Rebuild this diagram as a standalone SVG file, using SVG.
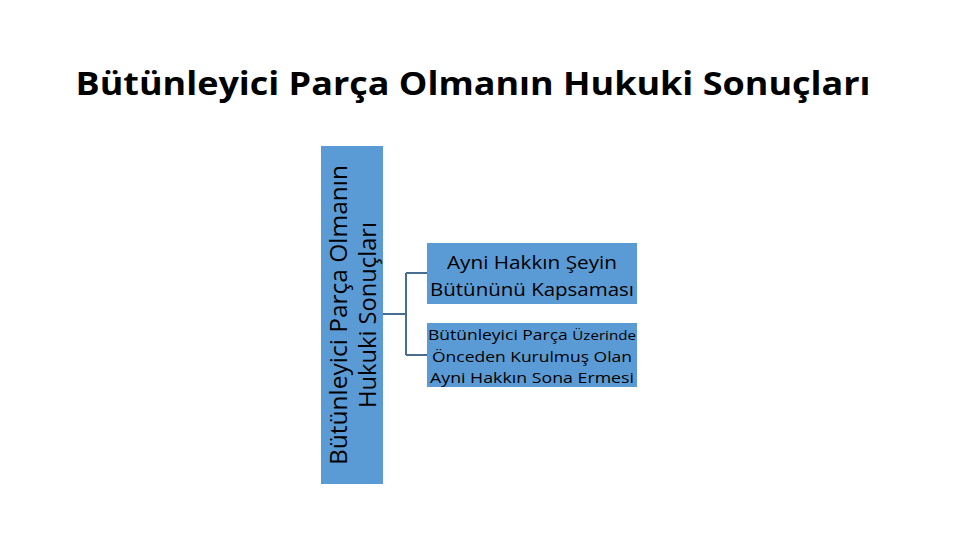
<svg xmlns="http://www.w3.org/2000/svg" width="960" height="540" viewBox="0 0 960 540">
<style>
.box{fill:#5b9bd5;}
.t{font-family:"Open Sans","Liberation Sans",sans-serif;fill:#000;text-anchor:middle;}
.conn{fill:none;stroke:#4a6d8f;stroke-width:2;}
</style>
<rect width="960" height="540" fill="#fff"/>
<text x="473" y="95" class="t" font-size="33" font-weight="bold" textLength="795" lengthAdjust="spacingAndGlyphs">Bütünleyici Parça Olmanın Hukuki Sonuçları</text>
<g id="connectors">
<path class="conn" d="M383,314 H406 M406,273 V355 M406,273 H427 M406,355 H427"/>
</g>
<g id="root">
<rect class="box" x="321" y="146" width="62" height="338"/>
<g transform="translate(352,315) rotate(-90)">
<text x="0" y="-5" class="t" font-size="23" textLength="300" lengthAdjust="spacingAndGlyphs">Bütünleyici Parça Olmanın</text>
<text x="0" y="24" class="t" font-size="23" textLength="186" lengthAdjust="spacingAndGlyphs">Hukuki Sonuçları</text>
</g>
</g>
<g id="n1">
<rect class="box" x="427" y="243" width="210" height="61"/>
<text x="532" y="269" class="t" font-size="19" textLength="170" lengthAdjust="spacingAndGlyphs">Ayni Hakkın Şeyin</text>
<text x="532" y="296" class="t" font-size="19" textLength="204" lengthAdjust="spacingAndGlyphs">Bütününü Kapsaması</text>
</g>
<g id="n2">
<rect class="box" x="427" y="323" width="210" height="64"/>
<text x="532" y="340" class="t" font-size="15" textLength="208" lengthAdjust="spacingAndGlyphs">Bütünleyici Parça <tspan font-size="13">Üzerinde</tspan></text>
<text x="532" y="362" class="t" font-size="15" textLength="200" lengthAdjust="spacingAndGlyphs">Önceden Kurulmuş Olan</text>
<text x="532" y="383" class="t" font-size="15" textLength="204" lengthAdjust="spacingAndGlyphs">Ayni Hakkın Sona Ermesi</text>
</g>
</svg>
